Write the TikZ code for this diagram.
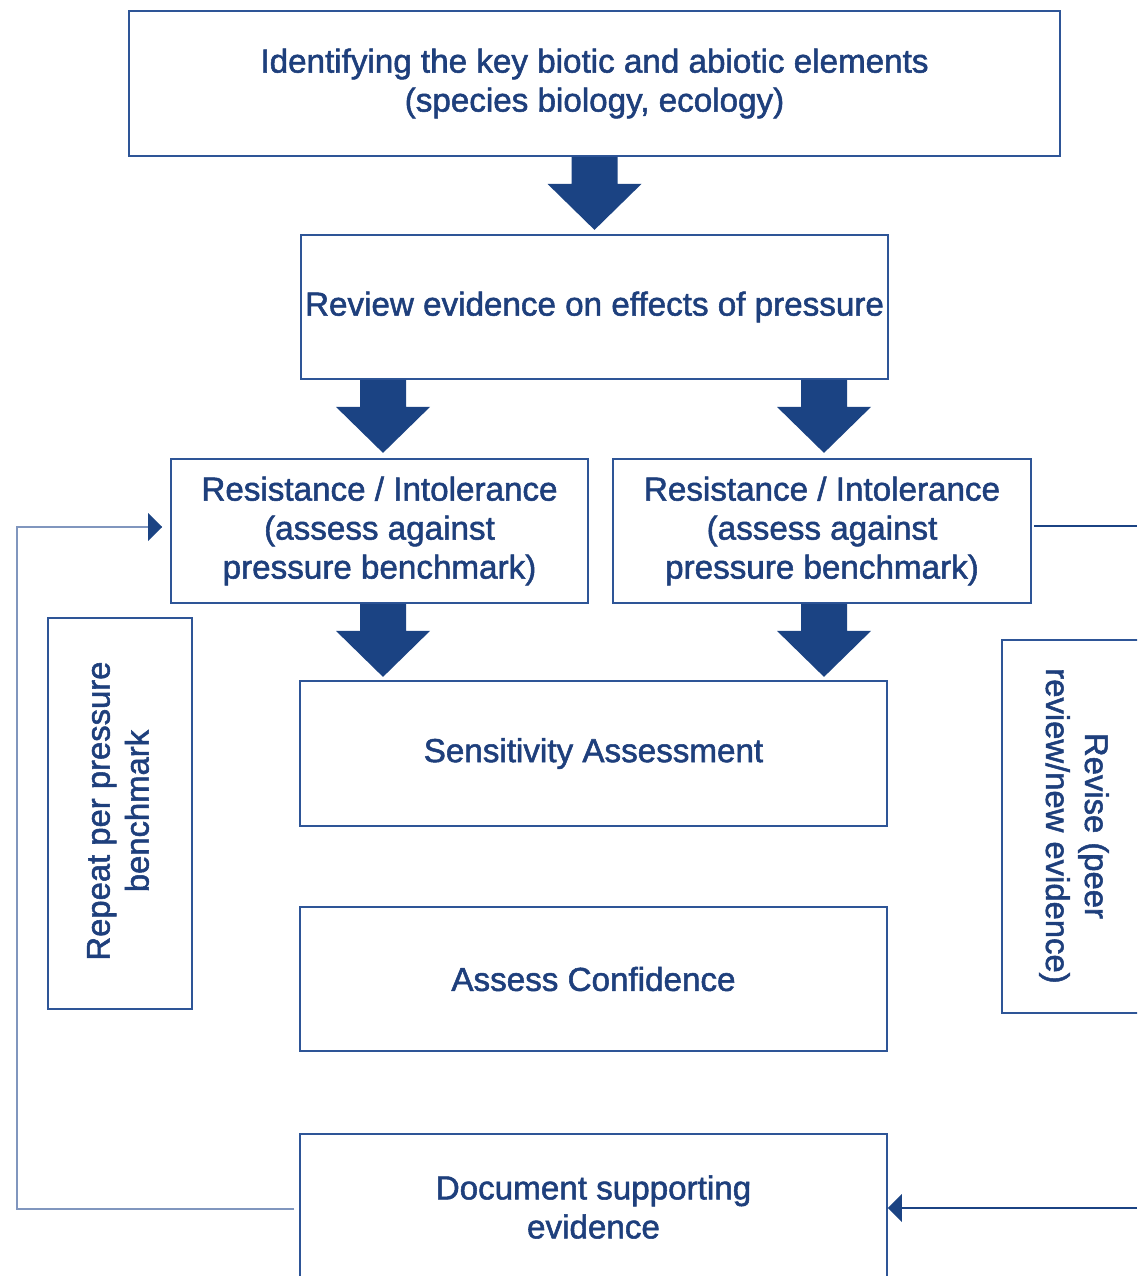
\documentclass[tikz,border=0pt]{standalone}
\usepackage{fontspec}
\setmainfont{Liberation Sans}
\newfontfamily\medfont[FakeBold=1.6]{Liberation Sans}
\usetikzlibrary{calc,arrows.meta}
\definecolor{navy}{HTML}{1B4383}
\definecolor{txt}{HTML}{1E3F7C}
\definecolor{edge}{HTML}{2E5597}
\definecolor{loopc}{HTML}{8096BE}
\newcommand\bigarrow[1]{\fill[navy] (#1) ++(-23,0) -- ++(0,27) -- ++(-24,0) -- ++(47,46) -- ++(47,-46) -- ++(-24,0) -- ++(0,-27) -- cycle;}
\begin{document}
\begin{tikzpicture}[x=1pt,y=-1pt,
  box/.style={draw=edge,line width=1.8pt,rectangle,inner sep=0pt,align=center,text=txt,font=\medfont\fontsize{33.2}{39}\selectfont},
  side/.style={draw=edge,line width=1.8pt,rectangle,inner sep=0pt,text=txt},
  sidetxt/.style={text=txt,align=center,font=\medfont\fontsize{32.8}{39}\selectfont}]
\clip (0,0) rectangle (1137,1276);
\fill[white] (0,0) rectangle (1137,1276);
\node[box,minimum width=931pt,minimum height=145pt] (b1) at (594.5,83.5) {Identifying the key biotic and abiotic elements\\(species biology, ecology)};
\node[box,minimum width=587pt,minimum height=144pt] (b2) at (594.5,307) {Review evidence on effects of pressure};
\node[box,minimum width=417pt,minimum height=144pt] (b3l) at (379.5,531) {Resistance / Intolerance\\(assess against\\pressure benchmark)};
\node[box,minimum width=418pt,minimum height=144pt] (b3r) at (822,531) {Resistance / Intolerance\\(assess against\\pressure benchmark)};
\node[box,minimum width=587pt,minimum height=145pt] (b4) at (593.5,753.5) {Sensitivity Assessment};
\node[box,minimum width=587pt,minimum height=144pt] (b5) at (593.5,979) {Assess Confidence};
\node[box,minimum width=587pt,minimum height=146pt] (b6) at (593.5,1207) {Document supporting\\evidence};
\node[side,minimum width=144pt,minimum height=391pt] (rep) at (120,813.5) {};
\node[side,minimum width=150pt,minimum height=373pt] (rev) at (1077,826.5) {};
\node[sidetxt,rotate=90] (reptxt) at (118,811) {Repeat per pressure\\benchmark};
\node[sidetxt,rotate=-90] (revtxt) at (1074,826) {Revise (peer\\review/new evidence)};
\coordinate (a1) at (b1.south);
\coordinate (a2) at (b2.south -| 383,0);
\coordinate (a3) at (b2.south -| 824,0);
\coordinate (a4) at (b3l.south -| 383,0);
\coordinate (a5) at (b3r.south -| 824,0);
\bigarrow{a1}
\bigarrow{a2}
\bigarrow{a3}
\bigarrow{a4}
\bigarrow{a5}
% left loop
\coordinate (lstart) at ($(b6.west |- 0,1209)+(-5,0)$);
\coordinate (ltip) at ($(b3l.west |- 0,527)+(-8,0)$);
\draw[loopc,line width=1.6pt] (lstart) -- (17,1209) -- (17,527) -- (ltip);
\fill[navy] (ltip) -- ++(-14,-14) -- ++(0,28) -- cycle;
% right loop
\coordinate (rtop) at (1137,526);
\coordinate (rbot) at (1137,1208);
\coordinate (rtip) at (b6.east |- 0,1208);
\draw[navy,line width=1.3pt] ($(b3r.east |- 0,526)+(2,0)$) -- (rtop);
\draw[navy,line width=1.3pt] (rbot) -- ($(rtip)+(14,0)$);
\fill[navy] (rtip) -- ++(14,-14) -- ++(0,28) -- cycle;
\end{tikzpicture}
\end{document}
